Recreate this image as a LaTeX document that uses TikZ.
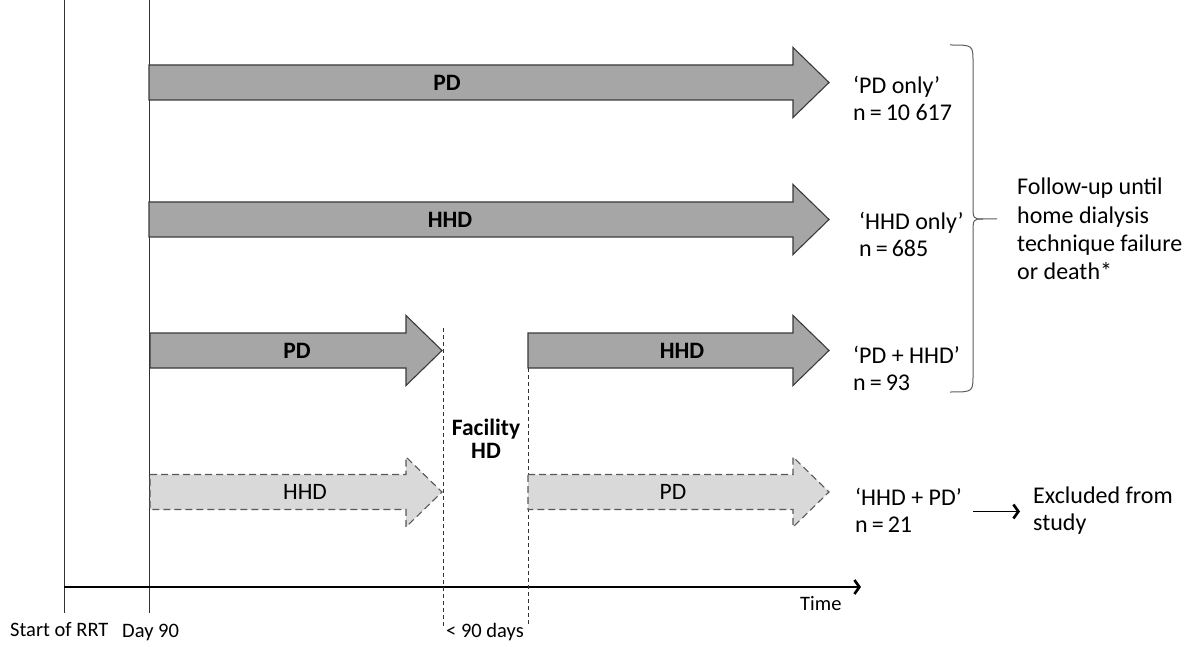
\documentclass[tikz,border=0pt]{standalone}
\usepackage{fontspec}
\setmainfont{Carlito}
\usetikzlibrary{arrows.meta}
\definecolor{darkfill}{HTML}{A6A6A6}
\definecolor{lightfill}{HTML}{D9D9D9}
\definecolor{edgecol}{HTML}{3A3A3A}
\definecolor{linecol}{HTML}{333333}
\newcommand{\tlarrow}[4]{\draw[#1] (#2,#4-17.5) -- (#3-36,#4-17.5) -- (#3-36,#4-35) -- (#3,#4) -- (#3-36,#4+35) -- (#3-36,#4+17.5) -- (#2,#4+17.5) -- cycle;}
\begin{document}
\begin{tikzpicture}[x=1pt,y=-1pt,
  darkarrow/.style={fill=darkfill,draw=edgecol,line width=1.1pt,line join=miter},
  lightarrow/.style={fill=lightfill,draw=edgecol!85,line width=1.1pt,dash pattern=on 7pt off 4pt},
  timeline/.style={draw=linecol,line width=1pt},
  gapline/.style={draw=linecol,line width=1pt,dash pattern=on 4pt off 3pt},
  ptr/.style={draw=black,line width=1.2pt,-{Straight Barb[length=5pt,width=14pt,line width=2.6pt]}},
  blab/.style={inner sep=0pt,font=\fontsize{23.5}{23}\selectfont\bfseries},
  nlab/.style={inner sep=0pt,font=\fontsize{23.5}{23}\selectfont},
  rlab/.style={inner sep=0pt,anchor=west,align=left,font=\fontsize{24}{27}\selectfont},
  axlab/.style={inner sep=0pt,anchor=base west,font=\fontsize{20.5}{22}\selectfont},
  brace/.style={draw=linecol!80,line width=1pt}]
\useasboundingbox (0,0) rectangle (1197,647);

% vertical time markers
\coordinate (rrtTop) at (64,0);
\coordinate (rrtBot) at (64,613);
\coordinate (d90Top) at (149,0);
\coordinate (d90Bot) at (149,613);
\draw[timeline] (rrtTop) -- (rrtBot);
\draw[timeline] (d90Top) -- (d90Bot);

% time axis
\coordinate (axL) at (64,587);
\coordinate (axR) at (861,587);
\draw[ptr,line width=1.3pt] (axL) -- (axR);

% facility HD gap lines
\coordinate (g1Top) at (443,328);
\coordinate (g1Bot) at (443,626);
\coordinate (g2Top) at (528,333);
\coordinate (g2Bot) at (528,624);
\draw[gapline] (g1Top) -- (g1Bot);
\draw[gapline] (g2Top) -- (g2Bot);

% arrows
\tlarrow{darkarrow}{149}{829}{82.5}
\tlarrow{darkarrow}{149}{829}{219.5}
\tlarrow{darkarrow}{150}{442}{350.5}
\tlarrow{darkarrow}{528}{829}{350.5}
\tlarrow{lightarrow}{150}{442}{492}
\tlarrow{lightarrow}{528}{829}{492}

% arrow labels
\node[blab] (a1) at (447,83) {PD};
\node[blab] (a2) at (450,220) {HHD};
\node[blab] (a3) at (297,351) {PD};
\node[blab] (a4) at (682,351) {HHD};
\node[nlab] (a5) at (305,492) {HHD};
\node[nlab] (a6) at (673,492) {PD};

\node[blab,align=center,font=\fontsize{23.5}{23}\selectfont\bfseries] (fac) at (486,439) {Facility\\HD};

% right labels
\node[rlab] (pdonly) at (853,98) {‘PD only’\\n\,=\,10 617};
\node[rlab] (hhdonly) at (859,234.5) {‘HHD only’\\n\,=\,685};
\node[rlab] (pdhhd) at (853,368) {‘PD + HHD’\\n\,=\,93};
\node[rlab] (hhdpd) at (855,510) {‘HHD + PD’\\n\,=\,21};
\node[rlab,align=left,font=\fontsize{24}{28.3}\selectfont] (follow) at (1017,229) {Follow-up until\\home dialysis\\technique failure\\or death*};
\node[rlab] (excl) at (1033,510.5) {Excluded from\\study};
\draw[ptr,shorten <=11pt,shorten >=13pt] ([yshift=-1.5pt]hhdpd.east) -- ([yshift=-1.5pt]hhdpd.east -| excl.west);

% brace
\coordinate (brTop) at (950,45);
\coordinate (brBot) at (950,392);
\coordinate (brTip) at (997,219);
\draw[brace] (brTop) .. controls (973,45) .. (973,62) -- (973,204) .. controls (973,219) .. (983,219) -- (brTip);
\draw[brace] (brBot) .. controls (973,392) .. (973,375) -- (973,234) .. controls (973,219) .. (983,219);

% axis labels
\node[axlab] (lrrt) at (10,636) {Start of RRT};
\node[axlab] (ld90) at (122,637) {Day 90};
\node[axlab,anchor=base] (lgap) at (485,637) {<~90 days};
\node[axlab] (ltime) at (800,610) {Time};
\end{tikzpicture}
\end{document}
